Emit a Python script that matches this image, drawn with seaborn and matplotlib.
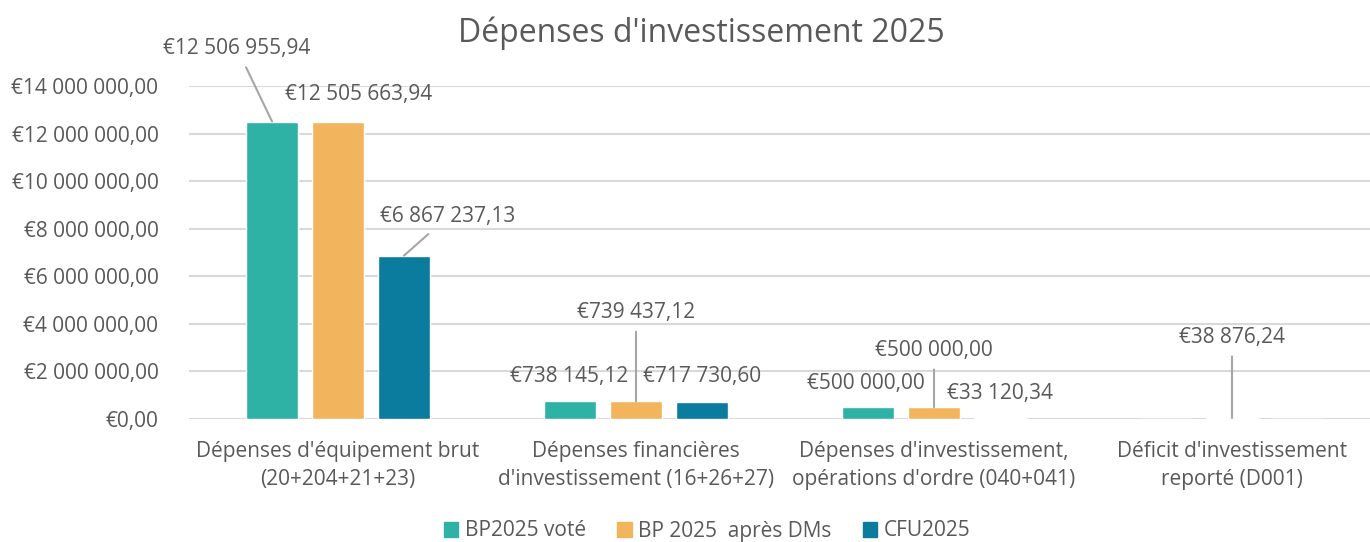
import matplotlib
matplotlib.use("Agg")
import matplotlib.pyplot as plt
import matplotlib.patches as mpatches
import seaborn as sns
import pandas as pd

# ---- data ----
categories = [
    "Dépenses d'équipement brut\n(20+204+21+23)",
    "Dépenses financières\nd'investissement (16+26+27)",
    "Dépenses d'investissement,\nopérations d'ordre (040+041)",
    "Déficit d'investissement\nreporté (D001)",
]
series_names = ["BP2025 voté", "BP 2025  après DMs", "CFU2025"]
bp2025_vote = [12506955.94, 738145.12, 500000.00, 0.0]
bp2025_apres_dms = [12505663.94, 739437.12, 500000.00, 38876.24]
cfu2025 = [6867237.13, 717730.60, 33120.34, 0.0]
y_ticks = [0, 2e6, 4e6, 6e6, 8e6, 10e6, 12e6, 14e6]
title = "Dépenses d'investissement 2025"

colors = ["#2EB2A6", "#F2B55E", "#0B7B9E"]
text_color = "#595959"
grid_color = "#D9D9D9"

# label offsets in pixels (dx, up, leader)
label_offsets = {
    (0, 0): (-35, 73, True), (0, 1): (21, 27, False), (0, 2): (44, 39, True),
    (1, 0): (-1, 25, False), (1, 1): (0, 89, True), (1, 2): (0, 25, False),
    (2, 0): (-2, 24, False), (2, 1): (0, 57, True), (2, 2): (0, 25, False),
    (3, 0): (0, 25, False), (3, 1): (0, 81, True), (3, 2): (0, 25, False),
}

def fmt_eur(v):
    s = f"{v:,.2f}"
    s = s.replace(",", " ").replace(".", ",")
    return "€" + s

sns.set_theme(style="white")
plt.rcParams["font.family"] = ["Open Sans", "DejaVu Sans"]

FS = 15
W, H = 1370, 542
fig = plt.figure(figsize=(W / 100, H / 100), dpi=100)
ax = fig.add_axes([189 / W, (H - 419) / H, 1192 / W, (419 - 86) / H])

series_values = [bp2025_vote, bp2025_apres_dms, cfu2025]
rows = []
for sname, vals in zip(series_names, series_values):
    for c, v in zip(categories, vals):
        rows.append({"cat": c, "series": sname, "val": v})
df = pd.DataFrame(rows)

sns.barplot(data=df, x="cat", y="val", hue="series", hue_order=series_names,
            order=categories, palette=colors, saturation=1, width=0.664,
            gap=0.21, legend=False, ax=ax)

ax.set_ylim(0, 14e6)
ax.set_xlim(-0.5, 3.5)
ax.set_yticks(y_ticks)
ax.set_yticklabels([fmt_eur(v) for v in y_ticks])
ax.set_xlabel("")
ax.set_ylabel("")
ax.grid(axis="y", color=grid_color, linewidth=1.5)
ax.set_axisbelow(True)
for sp in ax.spines.values():
    sp.set_visible(False)
ax.tick_params(axis="y", length=0, pad=22, labelsize=FS, labelcolor=text_color)
ax.tick_params(axis="x", length=0, pad=16, labelsize=FS, labelcolor=text_color)
for lbl in ax.get_xticklabels():
    lbl.set_linespacing(1.4)

px2pt = 72 / 100
for si, cont in enumerate(ax.containers):
    for ci, bar in enumerate(cont):
        v = series_values[si][ci]
        if v <= 0:
            continue
        dx, up, leader = label_offsets[(ci, si)]
        x = bar.get_x() + bar.get_width() / 2
        y = bar.get_height()
        kw = {}
        if leader:
            kw["arrowprops"] = dict(arrowstyle="-", color="#A6A6A6", lw=1.5,
                                    shrinkA=4, shrinkB=0)
        ax.annotate(fmt_eur(v), xy=(x, y), xytext=(dx * px2pt, up * px2pt),
                    textcoords="offset points", ha="center", va="center",
                    fontsize=FS, color=text_color, annotation_clip=False, **kw)

fig.text(701 / W, 1 - 33 / H, title, ha="center", va="center",
         fontsize=23, color=text_color)

handles = [mpatches.Patch(color=c, label=n) for c, n in zip(colors, series_names)]
fig.legend(handles=handles, loc="center", bbox_to_anchor=(707 / W, 11 / H),
           ncol=3, frameon=False, fontsize=FS, labelcolor=text_color,
           handlelength=0.7, handleheight=0.7, handletextpad=0.3,
           columnspacing=1.5)

fig.savefig("out.png", dpi=100)
